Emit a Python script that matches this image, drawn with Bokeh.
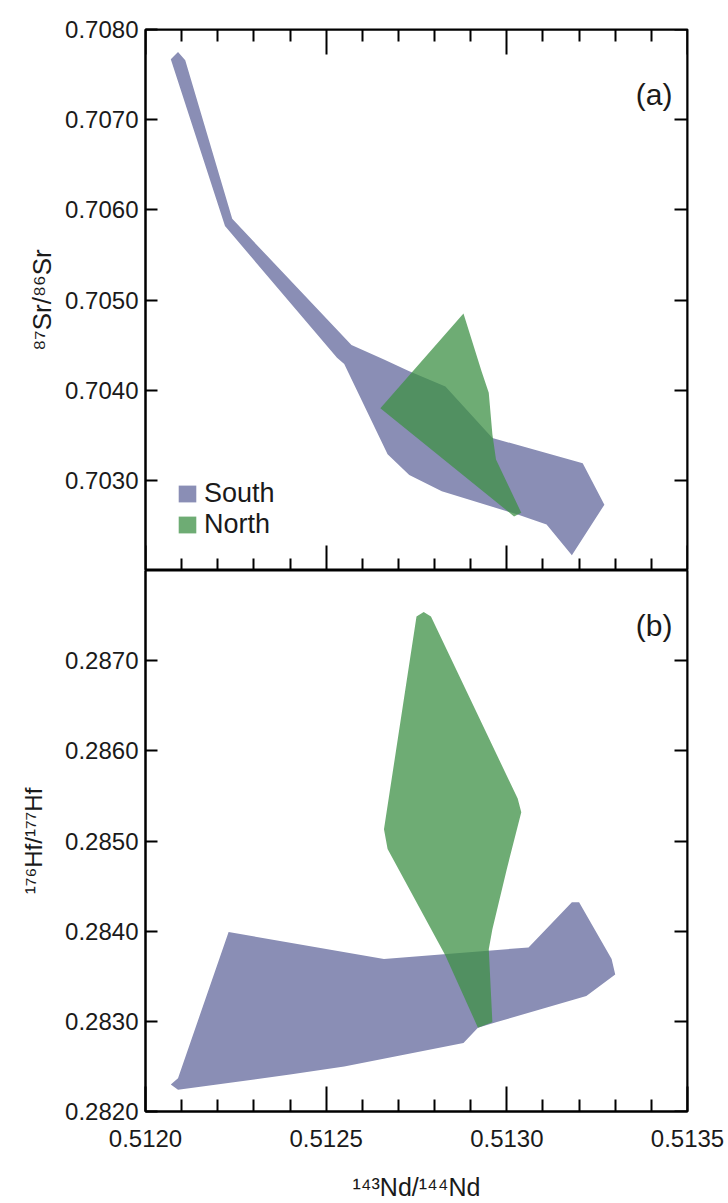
from bokeh.embed import file_html
from bokeh.layouts import column
from bokeh.models import (FixedTicker, Label, Legend, LegendItem, LinearAxis,
                          PrintfTickFormatter, Range1d)
from bokeh.plotting import figure
from bokeh.resources import INLINE

# ---------------------------------------------------------------------------
# Field outlines (143Nd/144Nd against 87Sr/86Sr and 176Hf/177Hf)
# ---------------------------------------------------------------------------
south_sr_nd = [0.51207, 0.51209, 0.51211, 0.51224, 0.51257, 0.51266, 0.51273,
               0.51283, 0.51296, 0.51321, 0.51327, 0.51318, 0.51311, 0.51303,
               0.51282, 0.51273, 0.51267, 0.51255, 0.51253, 0.51222]
south_sr = [0.70767, 0.70775, 0.70766, 0.70590, 0.70450, 0.70434, 0.70421,
            0.70404, 0.70347, 0.70319, 0.70273, 0.70217, 0.70251, 0.70262,
            0.70288, 0.70306, 0.70329, 0.70429, 0.70436, 0.70582]

north_sr_nd = [0.51288, 0.51293, 0.51295, 0.51296, 0.51297, 0.51304, 0.51302,
               0.51265]
north_sr = [0.70485, 0.70421, 0.70397, 0.70351, 0.70323, 0.70264, 0.70260,
            0.70380]

south_hf_nd = [0.51223, 0.51266, 0.51306, 0.51318, 0.51320, 0.51329, 0.51330,
               0.51322, 0.51297, 0.51292, 0.51288, 0.51255, 0.51240, 0.51209,
               0.51207, 0.51209]
south_hf = [0.28399, 0.28369, 0.28382, 0.28432, 0.28432, 0.28369, 0.28352,
            0.28328, 0.28299, 0.28293, 0.28276, 0.28250, 0.28241, 0.28224,
            0.28230, 0.28237]

north_hf_nd = [0.51275, 0.51277, 0.51279, 0.51303, 0.51304, 0.51300, 0.51296,
               0.51295, 0.51296, 0.51292, 0.51283, 0.51267, 0.51266]
north_hf = [0.28749, 0.28754, 0.28749, 0.28547, 0.28532, 0.28469, 0.28402,
            0.28380, 0.28299, 0.28293, 0.28373, 0.28491, 0.28513]

# axis ticks
nd_major = [0.5120, 0.5125, 0.5130, 0.5135]
nd_minor = [0.5121, 0.5122, 0.5123, 0.5124, 0.5126, 0.5127, 0.5128, 0.5129,
            0.5131, 0.5132, 0.5133, 0.5134]
sr_ticks = [0.7030, 0.7040, 0.7050, 0.7060, 0.7070, 0.7080]
hf_ticks = [0.2820, 0.2830, 0.2840, 0.2850, 0.2860, 0.2870]

ND_RANGE = (0.5120, 0.5135)
SR_RANGE = (0.7020, 0.7080)
HF_RANGE = (0.2820, 0.2880)

SR_TITLE = "\u2078\u2077Sr/\u2078\u2076Sr"
HF_TITLE = "\u00b9\u2077\u2076Hf/\u00b9\u2077\u2077Hf"
ND_TITLE = "\u00b9\u2074\u00b3Nd/\u00b9\u2074\u2074Nd"

SOUTH_COLOR = "#8A8EB5"
NORTH_COLOR = "#3E9046"
NORTH_ALPHA = 0.75
INK = "#1a1a1a"
FONT = "'Liberation Sans', Arial, Helvetica, sans-serif"

W = 728
LEFT, RIGHT = 145, 41


def base_figure(height, top, bottom, y_range):
    p = figure(width=W, height=height, output_backend="svg",
               toolbar_location=None, x_axis_location=None,
               y_axis_location=None,
               x_range=Range1d(*ND_RANGE), y_range=Range1d(*y_range),
               min_border_left=LEFT, min_border_right=RIGHT,
               min_border_top=top, min_border_bottom=bottom)
    p.xgrid.grid_line_color = None
    p.ygrid.grid_line_color = None
    p.outline_line_color = "black"
    p.outline_line_width = 2
    p.background_fill_color = "white"
    p.border_fill_color = "white"
    return p


def axis(ticker, tick_in, minor_in=0, labels=False, fixed=None, standoff=7,
         title=None, title_size=26, title_standoff=6):
    ax = LinearAxis(ticker=ticker)
    ax.axis_line_color = "black"
    ax.axis_line_width = 2
    ax.major_tick_in = tick_in
    ax.major_tick_out = 0
    ax.minor_tick_in = minor_in
    ax.minor_tick_out = 0
    ax.major_tick_line_width = 2
    ax.minor_tick_line_width = 2
    ax.major_tick_line_color = "black"
    ax.minor_tick_line_color = "black"
    if labels:
        ax.formatter = PrintfTickFormatter(format="%.4f")
        ax.major_label_text_font = FONT
        ax.major_label_text_font_size = "24px"
        ax.major_label_text_color = INK
        ax.major_label_standoff = standoff
    else:
        ax.major_label_text_color = None
        ax.fixed_location = fixed
    if title:
        ax.axis_label = title
        ax.axis_label_text_font = FONT
        ax.axis_label_text_font_style = "normal"
        ax.axis_label_text_font_size = f"{title_size}px"
        ax.axis_label_text_color = INK
        ax.axis_label_standoff = title_standoff
    return ax


def nd_ticker():
    return FixedTicker(ticks=nd_major, minor_ticks=nd_minor)


def panel_tag(p, s, x, y):
    p.add_layout(Label(x=x, y=y, x_units="screen", y_units="screen", text=s,
                       text_font=FONT, text_font_size="30px",
                       text_color=INK, text_align="right",
                       text_baseline="alphabetic"))


# ---------------------------------------------------------------------------
# (a) Sr-Nd panel
# ---------------------------------------------------------------------------
pa = base_figure(570, 29, 0, SR_RANGE)
pa.add_layout(axis(FixedTicker(ticks=sr_ticks), 12, labels=True,
                   title=SR_TITLE, title_size=26, title_standoff=5), "left")
pa.add_layout(axis(FixedTicker(ticks=sr_ticks), 13, fixed=ND_RANGE[1]), "right")
pa.add_layout(axis(nd_ticker(), 25, 12, fixed=SR_RANGE[1]), "above")
pa.add_layout(axis(nd_ticker(), 25, 12, fixed=SR_RANGE[0]), "below")

ra_s = pa.patch(south_sr_nd, south_sr, fill_color=SOUTH_COLOR, line_color=None)
ra_n = pa.patch(north_sr_nd, north_sr, fill_color=NORTH_COLOR,
                fill_alpha=NORTH_ALPHA, line_color=None)

legend = Legend(items=[LegendItem(label="South", renderers=[ra_s]),
                       LegendItem(label="North", renderers=[ra_n])],
                location=(31, 30), orientation="vertical",
                glyph_width=22, glyph_height=21, label_height=21,
                label_standoff=6, spacing=0, padding=0, margin=0,
                label_text_font=FONT, label_text_font_size="27px",
                label_text_color=INK, border_line_color=None,
                background_fill_alpha=0)
pa.add_layout(legend)

panel_tag(pa, "(a)", 527, 476)

# ---------------------------------------------------------------------------
# (b) Hf-Nd panel
# ---------------------------------------------------------------------------
pb = base_figure(633, 0, 91, HF_RANGE)
pb.add_layout(axis(FixedTicker(ticks=hf_ticks), 12, labels=True,
                   title=HF_TITLE, title_size=24, title_standoff=15), "left")
pb.add_layout(axis(FixedTicker(ticks=hf_ticks), 13, fixed=ND_RANGE[1]), "right")
pb.add_layout(axis(nd_ticker(), 25, 12, labels=True, standoff=18,
                   title=ND_TITLE, title_size=25, title_standoff=23), "below")

pb.patch(south_hf_nd, south_hf, fill_color=SOUTH_COLOR, line_color=None)
pb.patch(north_hf_nd, north_hf, fill_color=NORTH_COLOR,
         fill_alpha=NORTH_ALPHA, line_color=None)

panel_tag(pb, "(b)", 527, 486)

layout = column(pa, pb, spacing=0)
open("out.html", "w").write(file_html(layout, INLINE))
